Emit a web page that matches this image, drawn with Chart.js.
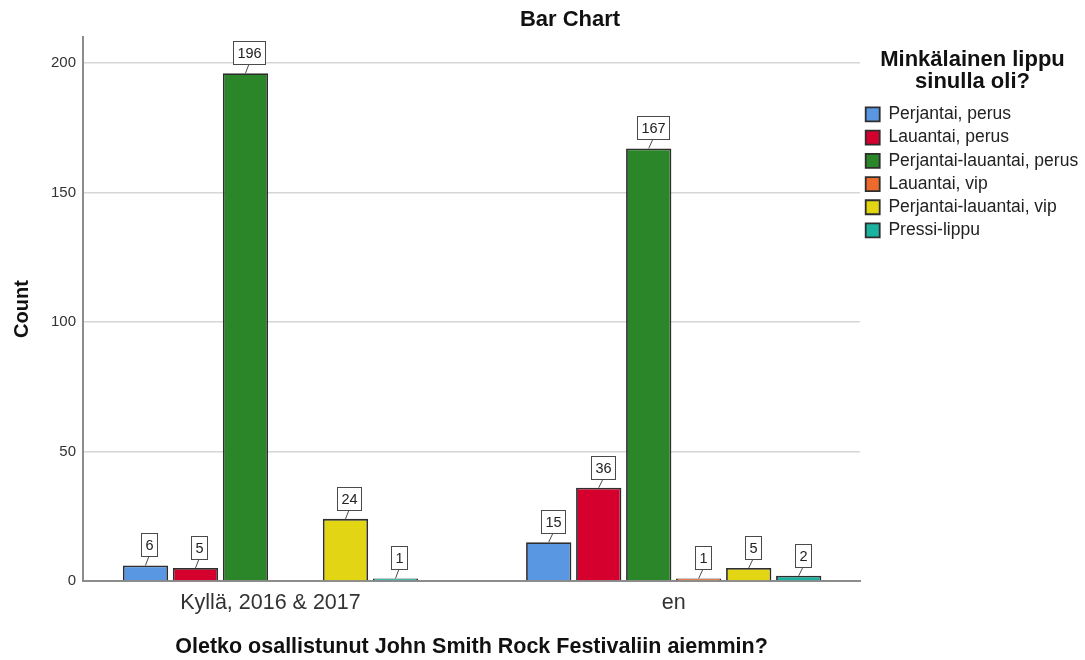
<!DOCTYPE html>
<html>
<head>
<meta charset="utf-8">
<title>Bar Chart</title>
<script src="https://cdn.jsdelivr.net/npm/chart.js@4.4.1/dist/chart.umd.min.js"></script>
<style>
  html, body { margin: 0; padding: 0; background: #fff; }
  #wrap { position: relative; width: 1085px; height: 660px; }
</style>
</head>
<body>
<div id="wrap"><canvas id="barChart"></canvas></div>
<script>
// Counts per ticket type, one value per answer category
const categories = ['Kyllä, 2016 & 2017', 'en'];
const ticketTypes = [
  'Perjantai, perus',
  'Lauantai, perus',
  'Perjantai-lauantai, perus',
  'Lauantai, vip',
  'Perjantai-lauantai, vip',
  'Pressi-lippu'
];
const perjantaiPerus = [6, 15];
const lauantaiPerus = [5, 36];
const molemmatPerus = [196, 167];
const lauantaiVip = [null, 1];
const molemmatVip = [24, 5];
const pressiLippu = [1, 2];
const yTicks = [0, 50, 100, 150, 200];

const seriesValues = [perjantaiPerus, lauantaiPerus, molemmatPerus, lauantaiVip, molemmatVip, pressiLippu];
const seriesColors = ['#5a97e3', '#d6002f', '#2b8529', '#ee6a2c', '#e2d614', '#1ab3a0'];

const fontFamily = '"Liberation Sans", Arial, sans-serif';

// small boxed value tags above every bar, tied to the bar by a short stem
const valueTags = {
  id: 'valueTags',
  afterDatasetsDraw(chart) {
    const { ctx } = chart;
    ctx.save();
    ctx.font = `14.5px ${fontFamily}`;
    ctx.textAlign = 'center';
    ctx.textBaseline = 'middle';
    chart.data.datasets.forEach((dataset, di) => {
      const meta = chart.getDatasetMeta(di);
      meta.data.forEach((bar, i) => {
        const value = dataset.data[i].y;
        if (value === null || value === undefined) return;
        const text = String(value);
        const w = Math.round(ctx.measureText(text).width) + 8;
        const h = 23;
        const cx = Math.round(bar.x + 4);
        const bottom = Math.round(bar.y - 9);
        ctx.strokeStyle = '#4a4a4a';
        ctx.lineWidth = 1;
        ctx.beginPath();
        ctx.moveTo(bar.x, bar.y);
        ctx.lineTo(cx, bottom);
        ctx.stroke();
        ctx.fillStyle = '#fff';
        ctx.fillRect(cx - w / 2, bottom - h, w, h);
        ctx.strokeRect(cx - w / 2 + 0.5, bottom - h + 0.5, w, h);
        ctx.fillStyle = '#222';
        ctx.fillText(text, cx + 0.5, bottom - h / 2 + 1);
      });
    });
    ctx.restore();
  }
};

const heading = {
  id: 'heading',
  afterDraw(chart) {
    const { ctx } = chart;
    ctx.save();
    ctx.font = `bold 22px ${fontFamily}`;
    ctx.fillStyle = '#111';
    ctx.textAlign = 'center';
    ctx.textBaseline = 'middle';
    ctx.fillText('Bar Chart', 570, 20);
    ctx.restore();
  }
};

new Chart(document.getElementById('barChart'), {
  type: 'bar',
  data: {
    datasets: ticketTypes.map((label, s) => ({
      label,
      data: seriesValues[s].map((v, i) => ({ x: i, y: v })),
      backgroundColor: seriesColors[s],
      borderColor: '#2e2e2e',
      borderWidth: 1.8
    }))
  },
  options: {
    responsive: true,
    maintainAspectRatio: false,
    animation: false,
    layout: { padding: { top: 37, right: 0, left: 0, bottom: 0 } },
    datasets: {
      bar: { categoryPercentage: 0.744, barPercentage: 0.906 }
    },
    plugins: {
      title: { display: false },
      tooltip: { enabled: false },
      legend: {
        position: 'right',
        align: 'start',
        maxWidth: 225,
        title: {
          display: true,
          text: ['Minkälainen lippu', 'sinulla oli?'],
          color: '#111',
          font: { family: fontFamily, size: 22, weight: 'bold', lineHeight: 1.0 },
          padding: { top: 12, bottom: 29 }
        },
        labels: {
          boxWidth: 14,
          boxHeight: 14,
          padding: 5.7,
          color: '#222',
          font: { family: fontFamily, size: 17.5 }
        }
      }
    },
    scales: {
      x: {
        type: 'linear',
        offset: false,
        min: -0.465,
        max: categories.length - 1 + 0.462,
        afterBuildTicks: (scale) => {
          scale.ticks = categories.map((c, i) => ({ value: i }));
        },
        afterFit: (scale) => { scale.height = 79; },
        ticks: {
          callback: (value) => categories[value],
          color: '#333',
          font: { family: fontFamily, size: 21.5 },
          padding: 9,
          maxRotation: 0,
          autoSkip: false
        },
        grid: { display: false, drawTicks: false, offset: false },
        border: { display: true, color: '#8c8c8c', width: 2 },
        title: {
          display: true,
          text: 'Oletko osallistunut John Smith Rock Festivaliin aiemmin?',
          color: '#111',
          font: { family: fontFamily, size: 21.5, weight: 'bold' },
          padding: { top: 0, bottom: 0 }
        }
      },
      y: {
        min: 0,
        max: 210,
        afterBuildTicks: (scale) => {
          scale.ticks = yTicks.map((v) => ({ value: v }));
        },
        afterFit: (scale) => { scale.width = 83; },
        ticks: {
          color: '#333',
          font: { family: fontFamily, size: 15 },
          padding: 7
        },
        grid: { color: '#d6d6d6', lineWidth: 1.5, drawTicks: false },
        border: { color: '#8c8c8c', width: 2 },
        title: {
          display: true,
          text: 'Count',
          color: '#111',
          font: { family: fontFamily, size: 20, weight: 'bold' },
          padding: { top: 10, bottom: 0 }
        }
      }
    }
  },
  plugins: [valueTags, heading]
});
</script>
</body>
</html>
